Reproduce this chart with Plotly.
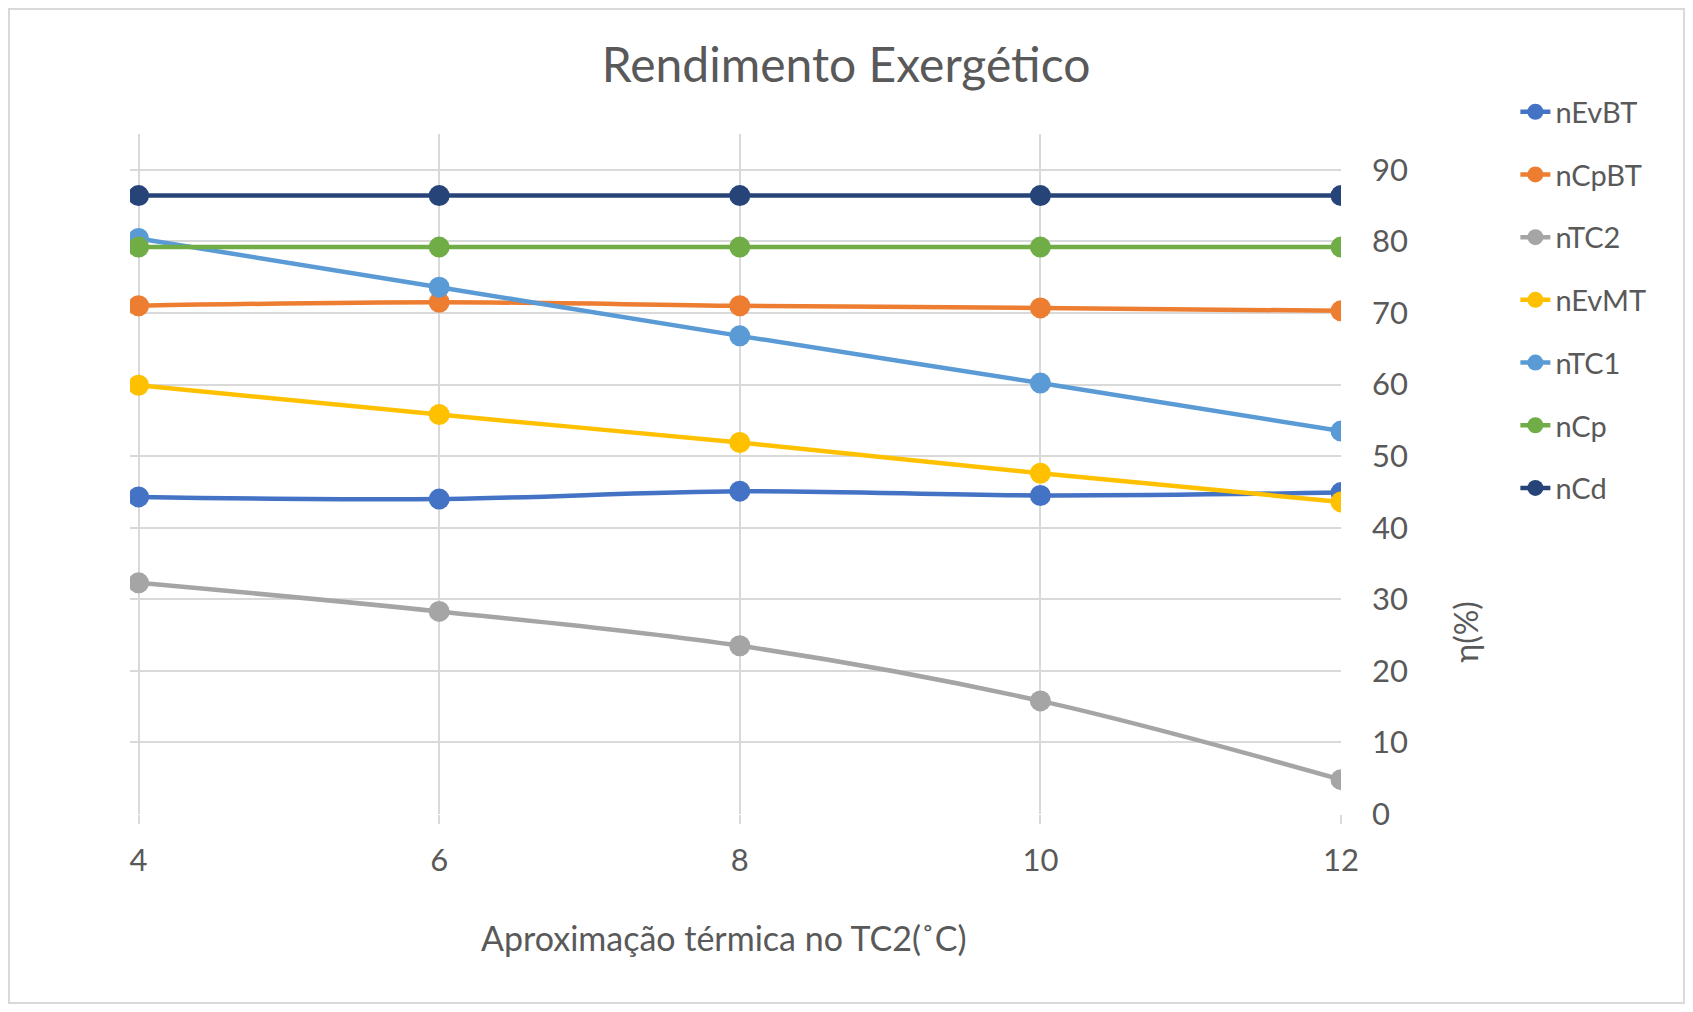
import plotly.graph_objects as go

x_vals = [4, 6, 8, 10, 12]
series_names = ["nEvBT", "nCpBT", "nTC2", "nEvMT", "nTC1", "nCp", "nCd"]
nEvBT = [44.3, 44.0, 45.1, 44.5, 44.9]
nCpBT = [71.0, 71.5, 71.0, 70.7, 70.3]
nTC2 = [32.3, 28.3, 23.5, 15.8, 4.8]
nEvMT = [59.9, 55.8, 51.9, 47.6, 43.6]
nTC1 = [80.4, 73.6, 66.8, 60.2, 53.5]
nCp = [79.2, 79.2, 79.2, 79.2, 79.2]
nCd = [86.4, 86.4, 86.4, 86.4, 86.4]
series_values = [nEvBT, nCpBT, nTC2, nEvMT, nTC1, nCp, nCd]
colors = ["#4472C4", "#ED7D31", "#A5A5A5", "#FFC000", "#5B9BD5", "#70AD47", "#264478"]
y_ticks = [0, 10, 20, 30, 40, 50, 60, 70, 80, 90]

FONT = "Lato"
TXT = "#595959"
GRID = "#D9D9D9"

W, H = 1677, 996

fig = go.Figure()
for name, vals, col in zip(series_names, series_values, colors):
    fig.add_trace(go.Scatter(
        x=x_vals, y=vals, name=name, mode="lines+markers",
        line=dict(color=col, width=4.5, shape="spline"),
        marker=dict(color=col, size=21),
        legendgroup=name,
    ))

fig.update_layout(
    width=W, height=H,
    margin=dict(l=122, r=344, t=126, b=190),
    paper_bgcolor="white", plot_bgcolor="white",
    font=dict(family=FONT, color=TXT),
    title=dict(text="Rendimento Exergético", x=838 / W, xref="container", xanchor="center",
               y=1 - 57 / H, yanchor="middle",
               font=dict(size=48, family=FONT, color=TXT)),
    showlegend=True,
    legend=dict(x=1.144, xanchor="left", y=1.07, yanchor="top",
                font=dict(size=29, family=FONT, color=TXT),
                traceorder="grouped", tracegroupgap=22,
                bgcolor="rgba(0,0,0,0)"),
    xaxis=dict(range=[3.943, 12], tickvals=x_vals, showgrid=True, gridcolor=GRID, gridwidth=2,
               zeroline=False, showline=False, ticks="outside", ticklen=9, tickwidth=2,
               tickcolor=GRID, tickfont=dict(size=31, family=FONT, color=TXT),
               ticklabelstandoff=10),
    yaxis=dict(range=[0, 95], tickvals=y_ticks, side="right", showgrid=True, gridcolor=GRID,
               gridwidth=2, zeroline=False, showline=False, ticks="",
               tickfont=dict(size=31, family=FONT, color=TXT), ticklabelstandoff=30),
)

fig.add_annotation(text="Aproximação térmica no TC2(˚C)", xref="paper", yref="paper",
                   x=0.4905, y=-0.181, xanchor="center", yanchor="middle", showarrow=False,
                   font=dict(size=34, family=FONT, color=TXT))
fig.add_annotation(text="η(%)", xref="paper", yref="paper", textangle=-90,
                   x=1.103, y=0.268, xanchor="center", yanchor="middle", showarrow=False,
                   font=dict(size=32, family=FONT, color=TXT))
fig.add_shape(type="rect", xref="paper", yref="paper",
              x0=-0.0999, x1=1.2833, y0=-0.278, y1=1.1838,
              line=dict(color=GRID, width=2), fillcolor="rgba(0,0,0,0)", layer="below")

fig.write_html("out.html")
